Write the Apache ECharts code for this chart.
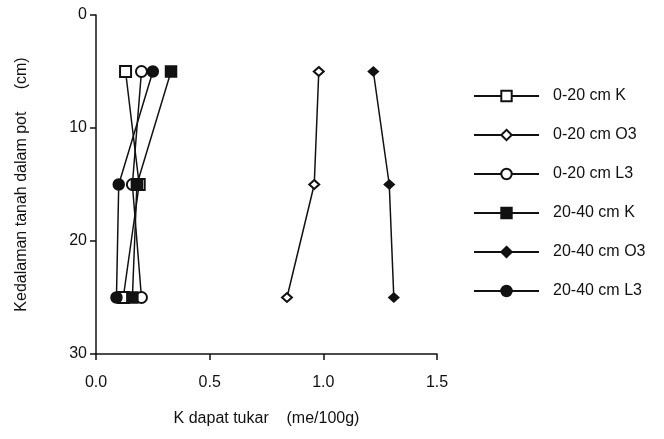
<!DOCTYPE html>
<html>
<head>
<meta charset="utf-8">
<style>
  html, body { margin: 0; padding: 0; background: #fff; }
  #chart { width: 664px; height: 439px; }
</style>
<script src="https://cdn.jsdelivr.net/npm/echarts@6/dist/echarts.min.js"></script>
</head>
<body>
<div id="chart"></div>
<script>
// Sampling depths in the pot (cm)
const depths = [5, 15, 25];

// Exchangeable K (me/100g) at each depth
const k0020K  = [0.13, 0.19, 0.12];
const k0020O3 = [0.98, 0.96, 0.84];
const k0020L3 = [0.20, 0.16, 0.20];
const k2040K  = [0.33, 0.18, 0.16];
const k2040O3 = [1.22, 1.29, 1.31];
const k2040L3 = [0.25, 0.10, 0.09];

const seriesNames = ['0-20 cm K', '0-20 cm O3', '0-20 cm L3', '20-40 cm K', '20-40 cm O3', '20-40 cm L3'];
const seriesValues = [k0020K, k0020O3, k0020L3, k2040K, k2040O3, k2040L3];
const seriesSymbols = ['emptyRect', 'emptyDiamond', 'emptyCircle', 'rect', 'diamond', 'circle'];
const seriesSizes = [[11, 11], [10, 9], [11, 11], [11, 11], [10, 9], [11, 11]];

const xTicks = [0, 0.5, 1.0, 1.5];
const yTicks = [0, 10, 20, 30];

const ink = '#111';
const fontFamily = '"Liberation Sans", Arial, sans-serif';
const fontSize = 16;

const chart = echarts.init(document.getElementById('chart'), null, { renderer: 'canvas' });

chart.setOption({
  backgroundColor: '#fff',
  animation: false,
  color: [ink, ink, ink, ink, ink, ink],
  grid: { left: 96, right: 227, top: 15, bottom: 85, containLabel: false },
  legend: {
    orient: 'vertical',
    left: 468,
    top: 83,
    itemWidth: 65,
    itemHeight: 13,
    itemGap: 23,
    textStyle: { color: ink, fontSize: fontSize, fontFamily: fontFamily, padding: [0, 0, 0, 9] },
    data: seriesNames
  },
  xAxis: {
    type: 'value',
    min: xTicks[0],
    max: xTicks[xTicks.length - 1],
    interval: 0.5,
    name: 'K dapat tukar    (me/100g)',
    nameLocation: 'middle',
    nameGap: 57,
    nameTextStyle: { color: ink, fontSize: fontSize, fontFamily: fontFamily },
    axisLine: { show: true, onZero: false, lineStyle: { color: ink, width: 1.5 } },
    axisTick: { show: true, inside: false, length: 6, lineStyle: { color: ink, width: 1.5 } },
    axisLabel: { color: ink, fontSize: fontSize, fontFamily: fontFamily, margin: 21,
                 formatter: v => v.toFixed(1) },
    splitLine: { show: false }
  },
  yAxis: {
    type: 'value',
    inverse: true,
    min: yTicks[0],
    max: yTicks[yTicks.length - 1],
    interval: 10,
    name: 'Kedalaman tanah dalam pot     (cm)',
    nameLocation: 'middle',
    nameGap: 66,
    nameTextStyle: { color: ink, fontSize: fontSize, fontFamily: fontFamily },
    axisLine: { show: true, onZero: false, lineStyle: { color: ink, width: 1.5 } },
    axisTick: { show: true, inside: false, length: 6, lineStyle: { color: ink, width: 1.5 } },
    axisLabel: { color: ink, fontSize: fontSize, fontFamily: fontFamily, margin: 9 },
    splitLine: { show: false }
  },
  series: seriesNames.map((name, i) => ({
    name: name,
    type: 'line',
    data: depths.map((d, j) => [seriesValues[i][j], d]),
    symbol: seriesSymbols[i],
    symbolSize: seriesSizes[i],
    showAllSymbol: true,
    lineStyle: { color: ink, width: 1.5 },
    itemStyle: { color: ink, borderColor: ink, borderWidth: 1.5 },
    emphasis: { disabled: true },
    z: 2
  }))
});
</script>
</body>
</html>
